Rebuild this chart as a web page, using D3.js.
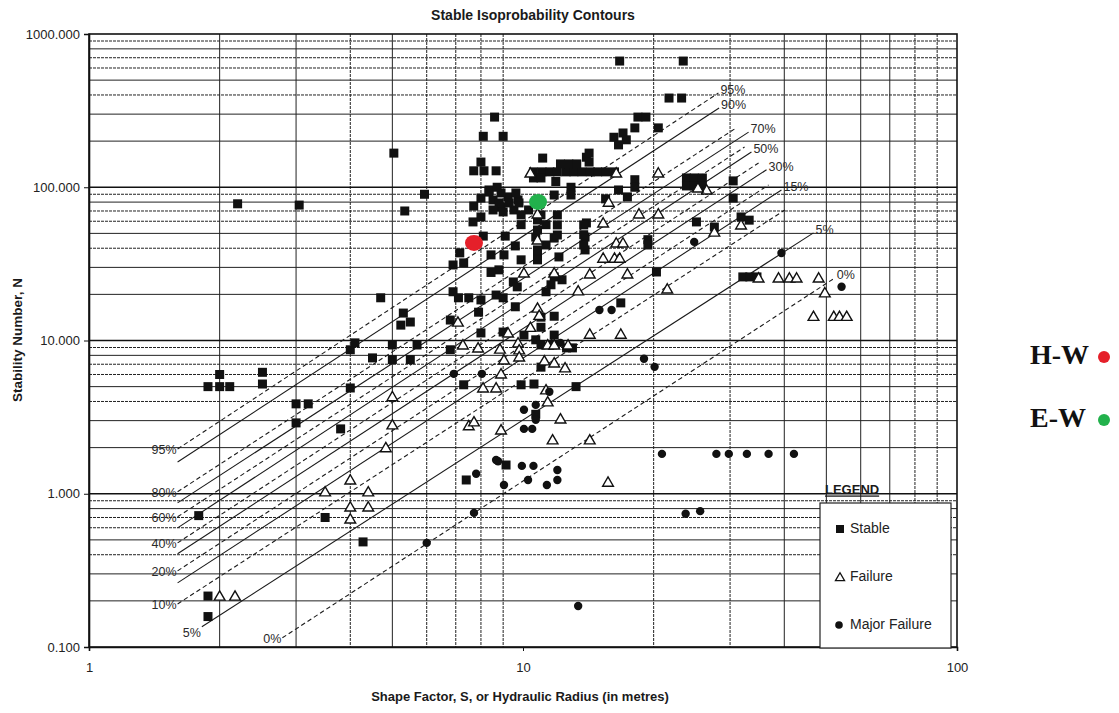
<!DOCTYPE html>
<html>
<head>
<meta charset="utf-8">
<script src="https://cdn.jsdelivr.net/npm/d3@7"></script>
<style>
  body { margin: 0; background: #fff; }
  svg { display: block; }
</style>
</head>
<body>
<svg id="chart" width="1119" height="713"></svg>
<script>
// ---- data: [shape factor S (m), stability number N] ----
const stable = [
  [1.88,5.0],[2.0,5.0],[2.11,5.0],[2.0,6.0],[2.51,6.2],[2.51,5.2],[3.0,3.86],[3.2,3.86],[3.0,2.9],[3.8,2.65],
  [4.0,4.9],[4.0,8.7],[4.1,9.65],[4.5,7.7],[5.0,9.35],[5.0,7.5],[4.7,19.0],[5.3,15.1],[5.23,12.6],[5.5,13.2],
  [5.7,9.35],[5.5,7.5],[1.79,0.72],[1.88,0.215],[1.88,0.158],[3.5,0.70],[4.28,0.485],
  [2.2,78],[3.05,76.5],[5.04,167],[5.93,90],[5.34,70],
  [8.6,287],[8.1,215],[9.0,215],[8.0,146],[7.7,128],[8.13,128],[8.67,128],[11.1,155],[14.0,157],
  [10.57,126],[11.06,126],[11.54,126],[12.0,126],[12.57,126],[13.1,126],[13.67,126],[14.3,126],[14.86,126],[15.5,126],[16.25,126],
  [12.2,142],[12.75,142],[13.3,142],[10.57,115],[11.0,115],[14.2,167],[14.2,146],
  [16.7,666],[23.4,666],[21.7,382],[23.2,382],[18.4,287],[19.2,287],[18.1,244],[20.5,244],[16.2,212],[17.0,226],[16.6,189],[17.3,204],
  [11.9,109],[12.9,100],[12.9,89],[11.8,89],[16.6,96],[17.4,86.5],[18.1,112],[18.1,100],[14.0,58.5],[11.0,66],[15.5,84],
  [23.8,115],[24.8,115],[25.9,115],[23.8,102],[24.8,102],[25.9,102],
  [30.5,110],[30.5,85],[25.1,59.4],[27.6,55],[31.8,64],[33.2,61],[19.4,45.5],[19.4,42],[20.3,28],[32.1,26],[33.3,26],[34.6,26],[16.8,17.6],[13.25,5.0],
  [8.1,48],[9.1,48],[9.6,41.4],[10.7,47.3],[11.8,46.6],[13.9,47.3],[13.9,39],
  [7.15,37.3],[6.9,31.1],[7.3,32.1],[8.44,36.2],[9.04,36.2],[9.9,33.6],[10.8,34.5],[12.1,35.1],[8.8,28.9],[8.44,27.8],
  [9.5,24.1],[9.7,22.4],[11.8,26],[11.6,23.1],[11.3,20.8],[12.3,24.9],
  [6.9,20.8],[7.1,19],[7.5,19],[8.0,18.4],[8.67,19.8],[9.0,19],[9.6,16.6],[7.9,15.3],[6.8,13.6],[8.0,11.2],[9.0,11.35],
  [10.05,10.85],[11.0,14.2],[11.0,12.2],[11.8,14.4],[10.7,10.1],[11.0,9.36],[11.7,9.36],[11.8,10.85],[12.6,8.95],[13.0,8.95],
  [6.8,8.7],[11.0,6.7],[7.3,5.14],[9.9,5.14],[10.6,5.2],[10.7,3.3],[9.14,1.54],[7.4,1.23],
  [8.35,93],[8.53,82.6],[9.24,86.5],[9.74,82.6],[8.9,74.3],[9.53,71.1],[10.3,71.1],[7.7,75.4],[8.0,64],[7.67,59.4],
  [8.35,96],[8.9,91.8],[9.63,91.8],[8.81,79],[9.29,79],[9.79,79],[8.53,71.1],[9.0,69],[8.72,100],[8.0,85],
  [12.0,66],[12.0,56.8],[12.0,48.8],[13.8,56.8],[13.8,49],[13.8,42],[10.8,61.2],[10.8,52.6],[10.8,39],[10.8,33.6],
  [11.3,57],[11.3,42],[9.9,66],[9.9,57]
];

const failure = [
  [2.0,0.215],[2.17,0.215],[3.5,1.03],[4.0,1.23],[4.4,1.03],[4.0,0.82],[4.4,0.82],[4.0,0.685],[5.0,4.3],[5.0,2.82],[4.83,2.0],[15.7,1.19],
  [16.4,43.3],[17.0,43.3],[15.3,34.5],[16.25,34.5],[16.7,34.5],[14.25,27.2],[17.4,27.2],[21.5,21.7],[11.8,27.6],[10.05,27.6],[13.4,21.1],[27.6,51],
  [10.8,16.3],[10.9,14.6],[10.4,12.2],[14.25,11.0],[16.8,11.0],[7.08,13.2],[9.24,11.2],[7.27,9.36],[7.88,8.95],[8.85,8.8],[9.74,9.65],[9.8,8.7],[9.8,7.82],
  [11.4,9.36],[11.8,9.36],[12.7,9.36],[9.04,7.48],[11.2,7.37],[11.8,7.15],[12.5,6.64],[8.9,6.06],[8.67,4.91],[8.09,4.91],
  [7.5,2.78],[7.71,2.95],[11.3,4.77],[11.4,3.98],[12.2,3.08],[11.7,2.25],[14.25,2.25],[8.9,2.61],
  [15.75,80],[16.4,124],[20.5,124],[18.5,67],[20.5,67],[15.3,58.5],[26.5,96],[25.3,99],[31.8,56.8],[10.4,124],[10.8,67],[10.8,45.3],
  [34.9,25.6],[38.8,25.6],[41.1,25.6],[42.7,25.6],[48.0,25.6],[49.6,20.5],[46.7,14.4],[52.0,14.4],[53.6,14.4],[55.7,14.4]
];

const majorFailure = [
  [7.8,1.35],[8.76,1.63],[9.94,1.52],[10.57,1.52],[12.0,1.43],[12.0,1.23],[9.04,1.14],[10.27,1.23],[11.35,1.14],
  [23.7,0.74],[25.6,0.77],[7.71,0.75],[6.0,0.478],[13.4,0.185],
  [15.0,15.8],[16.0,15.8],[6.93,6.06],[8.04,6.06],[19.0,7.6],[20.1,6.73],[11.5,4.63],[10.7,3.8],[10.05,3.53],
  [10.05,2.65],[10.5,2.65],[10.7,3.04],[8.67,1.66],[12.2,9.65],
  [20.9,1.82],[27.9,1.82],[29.8,1.82],[32.8,1.82],[36.8,1.82],[42.1,1.82],[39.4,37.2],[54.2,22.4],[24.8,44]
];

// highlighted cases
const hwPoint = [7.71, 43.3];
const ewPoint = [10.83, 80.2];

// isoprobability contours: label, start [S, N], end [S, N]
const contourLabels = ["95%","90%","80%","70%","60%","50%","40%","30%","20%","15%","10%","5%","0%"];
const contourStart = [[1.6,1.96],[1.6,1.61],[1.6,1.03],[1.6,0.872],[1.6,0.707],[1.6,0.599],[1.6,0.478],
                      [1.6,0.406],[1.6,0.314],[1.6,0.262],[1.6,0.191],[1.82,0.1355],[2.79,0.1148]];
const contourEnd = [[28.2,412],[28.3,329],[31.0,244],[33.1,229],[32.4,183],[33.6,170],[34.9,144],
                    [36.4,130],[36.8,103.5],[39.4,96],[40.1,71],[46.7,50.4],[52.3,25.6]];
const dashedContours = ["95%","80%","60%","40%","20%","10%","0%"];
const leftLabelled = ["95%","80%","60%","40%","20%","10%","5%","0%"];
const rightLabelled = ["95%","90%","70%","50%","30%","15%","5%","0%"];

const yTickValues = [0.1, 1, 10, 100, 1000];
const xTickValues = [1, 10, 100];
const legendItems = ["Stable", "Failure", "Major Failure"];

// ---- drawing ----
const SANS = "'Liberation Sans', Arial, sans-serif";
const SERIF = "'Liberation Serif', 'Times New Roman', serif";
const svg = d3.select("#chart");
const L = 89, R = 957, T = 34, B = 647;
const x = d3.scaleLog().domain([1, 100]).range([L, R]);
const y = d3.scaleLog().domain([0.1, 1000]).range([B, T]);

const grid = svg.append("g");
// minor vertical grid lines
const xMinor = [];
for (const dec of [1, 10]) for (let k = 2; k <= 9; k++) xMinor.push(k * dec);
const xSolid = new Set([2, 3, 5, 10, 40, 50, 60, 70]);
grid.selectAll("line.vx").data(xMinor).join("line")
  .attr("x1", d => x(d)).attr("x2", d => x(d)).attr("y1", T).attr("y2", B)
  .attr("stroke", "#222").attr("stroke-width", d => d === 10 ? 1.4 : 1)
  .attr("stroke-dasharray", d => xSolid.has(d) ? null : "3,1");

// horizontal grid lines
const yMinor = [];
for (const dec of [0.1, 1, 10, 100]) for (let k = 2; k <= 9; k++) yMinor.push(+(k * dec).toPrecision(3));
const ySolidK = new Set([2, 3, 5, 8]);
grid.selectAll("line.hy").data(yMinor).join("line")
  .attr("x1", L).attr("x2", R).attr("y1", d => y(d)).attr("y2", d => y(d))
  .attr("stroke", "#222").attr("stroke-width", 1)
  .attr("stroke-dasharray", d => {
    const k = Math.round(d / Math.pow(10, Math.floor(Math.log10(d) + 1e-9)));
    return ySolidK.has(k) ? null : "3,1";
  });
grid.selectAll("line.major").data(yTickValues.slice(1, 4)).join("line")
  .attr("x1", L).attr("x2", R).attr("y1", d => y(d)).attr("y2", d => y(d))
  .attr("stroke", "#111").attr("stroke-width", 1.7);

// frame
svg.append("rect").attr("x", L).attr("y", T).attr("width", R - L).attr("height", B - T)
  .attr("fill", "none").attr("stroke", "#111").attr("stroke-width", 1.6);

// axes
const yAxis = svg.append("g").attr("transform", `translate(${L},0)`)
  .call(d3.axisLeft(y).tickValues(yTickValues).tickFormat(d3.format(".3f")).tickSize(5).tickPadding(4));
const xAxis = svg.append("g").attr("transform", `translate(0,${B})`)
  .call(d3.axisBottom(x).tickValues(xTickValues).tickFormat(d3.format("d")).tickSize(4).tickPadding(12));
[yAxis, xAxis].forEach(a => {
  a.select(".domain").attr("stroke", "#111").attr("stroke-width", 1.6);
  a.selectAll(".tick line").attr("stroke", "#111");
  a.selectAll(".tick text").style("font-family", SANS).style("font-size", "13px").style("fill", "#222");
});

// contours
const contours = contourLabels.map((lab, i) => ({ lab, s: contourStart[i], e: contourEnd[i] }));
const cg = svg.append("g");
cg.selectAll("line").data(contours).join("line")
  .attr("x1", d => x(d.s[0])).attr("y1", d => y(d.s[1]))
  .attr("x2", d => x(d.e[0])).attr("y2", d => y(d.e[1]))
  .attr("stroke", "#1a1a1a").attr("stroke-width", 1.1)
  .attr("stroke-dasharray", d => dashedContours.includes(d.lab) ? "4.5,3" : null);
cg.selectAll("text.left").data(contours.filter(d => leftLabelled.includes(d.lab))).join("text")
  .attr("x", d => x(d.s[0]) - 1)
  .attr("y", d => y(d.s[1]) + (d.lab === "5%" ? 7 : 2))
  .attr("text-anchor", "end").attr("dominant-baseline", "middle")
  .style("font-family", SANS).style("font-size", "12.5px").style("fill", "#2a2a2a").text(d => d.lab);
cg.selectAll("text.right").data(contours.filter(d => rightLabelled.includes(d.lab))).join("text")
  .attr("x", d => x(d.e[0]) + 2)
  .attr("y", d => y(d.e[1]) - 2)
  .attr("dominant-baseline", "middle")
  .style("font-family", SANS).style("font-size", "12.5px").style("fill", "#2a2a2a").text(d => d.lab);

// markers
const pts = svg.append("g");
const triPath = d3.symbol().type(d3.symbolTriangle).size(50)();
pts.selectAll("rect").data(stable).join("rect")
  .attr("x", d => x(d[0]) - 4.5).attr("y", d => y(d[1]) - 4.5)
  .attr("width", 9).attr("height", 9).attr("fill", "#111");
pts.selectAll("path.fail").data(failure).join("path").attr("class", "fail")
  .attr("d", triPath)
  .attr("transform", d => `translate(${x(d[0])},${y(d[1]) + 1})`)
  .attr("fill", "#fff").attr("stroke", "#111").attr("stroke-width", 1.4);
pts.selectAll("circle").data(majorFailure).join("circle")
  .attr("cx", d => x(d[0])).attr("cy", d => y(d[1])).attr("r", 4.2).attr("fill", "#111");

// highlighted cases
svg.append("ellipse").attr("cx", x(hwPoint[0])).attr("cy", y(hwPoint[1])).attr("rx", 9).attr("ry", 8).attr("fill", "#e5202a");
svg.append("ellipse").attr("cx", x(ewPoint[0])).attr("cy", y(ewPoint[1])).attr("rx", 9).attr("ry", 8).attr("fill", "#22b14c");

// titles
const txt = (sel) => sel.style("font-family", SANS).style("fill", "#1a1a1a");
txt(svg.append("text")).attr("x", 533).attr("y", 16).attr("text-anchor", "middle").attr("dominant-baseline", "middle")
  .style("font-size", "14px").style("font-weight", "bold").text("Stable Isoprobability Contours");
txt(svg.append("text")).attr("transform", "translate(18,340) rotate(-90)").attr("text-anchor", "middle")
  .attr("dominant-baseline", "middle").style("font-size", "13.5px").style("font-weight", "bold").text("Stability Number, N");
txt(svg.append("text")).attr("x", 520).attr("y", 698).attr("text-anchor", "middle").attr("dominant-baseline", "middle")
  .style("font-size", "13px").style("font-weight", "bold").text("Shape Factor, S, or Hydraulic Radius (in metres)");

// legend
const lg = svg.append("g");
txt(lg.append("text")).attr("x", 825).attr("y", 491).attr("dominant-baseline", "middle")
  .style("font-size", "13px").style("font-weight", "bold").style("text-decoration", "underline").text("LEGEND");
lg.append("rect").attr("x", 820).attr("y", 503).attr("width", 131).attr("height", 145)
  .attr("fill", "#fff").attr("stroke", "#222").attr("stroke-width", 1.2);
const ly = d3.scalePoint().domain(legendItems).range([529, 625]);
legendItems.forEach(name => {
  const cy = ly(name);
  if (name === "Stable") lg.append("rect").attr("x", 836).attr("y", cy - 4).attr("width", 8).attr("height", 8).attr("fill", "#111");
  if (name === "Failure") lg.append("path").attr("d", d3.symbol().type(d3.symbolTriangle).size(36)())
    .attr("transform", `translate(840,${cy + 1})`).attr("fill", "#fff").attr("stroke", "#111").attr("stroke-width", 1.3);
  if (name === "Major Failure") lg.append("circle").attr("cx", 839).attr("cy", cy).attr("r", 3.8).attr("fill", "#111");
  txt(lg.append("text")).attr("x", 850).attr("y", cy).attr("dominant-baseline", "middle")
    .style("font-size", "14px").style("fill", "#222").text(name);
});

// case key on the right
const keys = [["H-W", "#e5202a", 358], ["E-W", "#22b14c", 421]];
keys.forEach(([name, col, cy]) => {
  svg.append("text").attr("x", 1030).attr("y", cy).attr("dominant-baseline", "middle")
    .style("font-family", SERIF).style("font-size", "28px").style("font-weight", "bold")
    .style("fill", "#111").text(name);
  svg.append("circle").attr("cx", 1104).attr("cy", cy - 1).attr("r", 6).attr("fill", col);
});
</script>
</body>
</html>
